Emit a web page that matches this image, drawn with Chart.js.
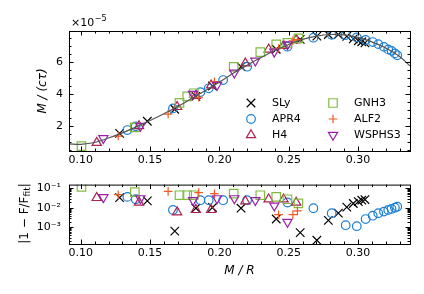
<!DOCTYPE html>
<html>
<head>
<meta charset="utf-8">
<script src="https://cdn.jsdelivr.net/npm/chart.js@4.4.0/dist/chart.umd.min.js"></script>
<style>
  html, body { margin: 0; padding: 0; background: #fff; }
  #wrap { position: relative; width: 424px; height: 294px; }
  #massChart { position: absolute; left: 0; top: 0; }
  #errChart { position: absolute; left: 0; top: 170px; }
</style>
</head>
<body>
<div id="wrap">
  <canvas id="massChart" width="424" height="170"></canvas>
  <canvas id="errChart" width="424" height="124"></canvas>
</div>
<script>
// compactness M/R, M/(c tau) in units of 1e-5, and |1 - F/Ffit| for each EOS
const slyX = [0.128, 0.148, 0.1678, 0.183, 0.195, 0.2156, 0.241, 0.2583, 0.2703, 0.2786, 0.2858, 0.2919, 0.2966, 0.3002, 0.3027, 0.305];
const slyY = [1.54, 2.3, 3.05, 3.85, 4.5, 5.71, 6.8, 7.42, 7.62, 7.72, 7.72, 7.6, 7.45, 7.33, 7.27, 7.2];
const slyErr = [0.034, 0.023, 0.00065, 0.0097, 0.0105, 0.0097, 0.0027, 0.00054, 0.00022, 0.0023, 0.0054, 0.011, 0.017, 0.021, 0.025, 0.027];

const apr4X = [0.1336, 0.1396, 0.1665, 0.1863, 0.1923, 0.2027, 0.22, 0.2491, 0.2678, 0.281, 0.2911, 0.2991, 0.3055, 0.3106, 0.3146, 0.3187, 0.3218, 0.3242, 0.3266, 0.3283];
const apr4Y = [1.75, 1.98, 3.1, 4.12, 4.36, 4.875, 5.71, 6.96, 7.52, 7.7, 7.69, 7.54, 7.38, 7.25, 7.12, 6.95, 6.79, 6.7, 6.54, 6.42];
const apr4Err = [0.037, 0.028, 0.0079, 0.025, 0.025, 0.025, 0.025, 0.019, 0.0097, 0.0054, 0.0013, 0.00116, 0.0027, 0.004, 0.0054, 0.0065, 0.0079, 0.0089, 0.0103, 0.0116];

const h4X = [0.1115, 0.142, 0.1695, 0.183, 0.194, 0.2187, 0.2355, 0.2463, 0.2554];
const h4Y = [0.96, 2.0, 3.2, 3.9, 4.55, 5.92, 6.79, 7.02, 7.38];
const h4Err = [0.033, 0.019, 0.0061, 0.008, 0.008, 0.022, 0.028, 0.028, 0.019];

const gnh3X = [0.1005, 0.139, 0.1712, 0.1768, 0.1815, 0.2103, 0.2295, 0.241, 0.2491, 0.257];
const gnh3Y = [0.75, 1.92, 3.45, 3.85, 4.05, 5.7, 6.62, 7.1, 7.2, 7.48];
const gnh3Err = [0.12, 0.065, 0.045, 0.045, 0.045, 0.054, 0.045, 0.037, 0.028, 0.017];

const alf2X = [0.127, 0.163, 0.1851, 0.1964, 0.2427, 0.253, 0.2563];
const alf2Y = [1.375, 2.75, 3.8, 4.77, 6.85, 7.33, 7.4];
const alf2Err = [0.048, 0.071, 0.061, 0.054, 0.0045, 0.0045, 0.0071];

const wsphs3X = [0.1163, 0.143, 0.181, 0.1983, 0.2108, 0.2259, 0.2396, 0.2491];
const wsphs3Y = [1.23, 2.0, 4.0, 4.56, 5.33, 6.08, 6.64, 7.1];
const wsphs3Err = [0.035, 0.031, 0.025, 0.031, 0.031, 0.025, 0.013, 0.0019];

// fitted curve
const fitX = [0.0915, 0.10, 0.11, 0.12, 0.13, 0.14, 0.15, 0.16, 0.17, 0.18, 0.19, 0.20, 0.21, 0.22, 0.23, 0.24, 0.25, 0.26, 0.27, 0.28, 0.29, 0.30, 0.31, 0.32, 0.33, 0.3375];
const fitY = [0.88, 0.86, 0.97, 1.25, 1.57, 1.95, 2.35, 2.77, 3.22, 3.72, 4.22, 4.75, 5.3, 5.8, 6.28, 6.72, 7.1, 7.42, 7.62, 7.72, 7.7, 7.54, 7.26, 6.88, 6.35, 5.75];

const xTicks = [0.10, 0.15, 0.20, 0.25, 0.30];
const xMinorTicks = [0.10, 0.11, 0.12, 0.13, 0.14, 0.15, 0.16, 0.17, 0.18, 0.19, 0.20, 0.21, 0.22, 0.23, 0.24, 0.25, 0.26, 0.27, 0.28, 0.29, 0.30, 0.31, 0.32, 0.33];
const yTicks = [2, 4, 6];
const yMinorTicks = [0.5, 1, 1.5, 2, 2.5, 3, 3.5, 4, 4.5, 5, 5.5, 6, 6.5, 7, 7.5];
const errTicks = [1e-3, 1e-2, 1e-1];
const errTickLabels = ['10\u207B\u00B3', '10\u207B\u00B2', '10\u207B\u00B9'];
const errMinorTicks = [];
[1e-4, 1e-3, 1e-2].forEach(d => { for (let k = 2; k <= 9; k++) errMinorTicks.push(k * d); });

const FONT = "'DejaVu Sans', sans-serif";

const eosList = [
    { label: 'SLy', x: slyX, y: slyY, err: slyErr, style: 'crossRot', color: '#000000', r: 6, rot: 0 },
    { label: 'APR4', x: apr4X, y: apr4Y, err: apr4Err, style: 'circle', color: '#1a7fd4', r: 4.3, rot: 0 },
    { label: 'H4', x: h4X, y: h4Y, err: h4Err, style: 'triangle', color: '#ad2150', r: 5.3, rot: 0 },
    { label: 'GNH3', x: gnh3X, y: gnh3Y, err: gnh3Err, style: 'rect', color: '#82bb43', r: 6, rot: 0 },
    { label: 'ALF2', x: alf2X, y: alf2Y, err: alf2Err, style: 'cross', color: '#ee5a24', r: 4.3, rot: 0 },
    { label: 'WSPHS3', x: wsphs3X, y: wsphs3Y, err: wsphs3Err, style: 'triangle', color: '#9b1fa8', r: 5.3, rot: 180 }
];

function markerSets(key) {
    return eosList.map((e, i) => ({
        label: e.label,
        data: e.x.map((x, j) => ({ x: x, y: e[key][j] })),
        pointStyle: e.style,
        pointRadius: e.r,
        pointRotation: e.rot,
        borderColor: e.color,
        backgroundColor: 'rgba(0,0,0,0)',
        pointBorderWidth: 1.2,
        showLine: false,
        order: eosList.length - i
    }));
}

// box round the plot and inward ticks on all four sides
const framePlugin = {
    id: 'frame',
    afterDatasetsDraw(chart, args, opts) {
        const ctx = chart.ctx;
        const a = chart.chartArea;
        const xs = chart.scales.x, ys = chart.scales.y;
        ctx.save();
        ctx.strokeStyle = '#000';
        ctx.lineWidth = 1;
        ctx.beginPath();
        const addTicks = (scale, vals, len) => {
            vals.forEach(v => {
                const p = Math.round(scale.getPixelForValue(v)) + 0.5;
                if (scale.isHorizontal()) {
                    if (p < a.left || p > a.right) return;
                    ctx.moveTo(p, a.bottom); ctx.lineTo(p, a.bottom - len);
                    ctx.moveTo(p, a.top); ctx.lineTo(p, a.top + len);
                } else {
                    if (p < a.top || p > a.bottom) return;
                    ctx.moveTo(a.left, p); ctx.lineTo(a.left + len, p);
                    ctx.moveTo(a.right, p); ctx.lineTo(a.right - len, p);
                }
            });
        };
        addTicks(xs, opts.xMinor, 2.5);
        addTicks(xs, opts.xMajor, 4.5);
        addTicks(ys, opts.yMinor, 2.5);
        addTicks(ys, opts.yMajor, 4.5);
        ctx.stroke();
        ctx.strokeRect(a.left + 0.5, a.top + 0.5, a.right - a.left, a.bottom - a.top);
        ctx.restore();
    }
};

// two column legend inside the upper panel
const eosLegendPlugin = {
    id: 'eosLegend',
    afterDraw(chart, args, opts) {
        if (!opts.show) return;
        const ctx = chart.ctx;
        ctx.save();
        ctx.font = '11px ' + FONT;
        ctx.textBaseline = 'middle';
        ctx.fillStyle = '#000';
        eosList.forEach((e, i) => {
            const col = Math.floor(i / 3), row = i % 3;
            const mx = opts.colX[col], my = opts.rowY[row];
            ctx.strokeStyle = e.color;
            ctx.lineWidth = 1.2;
            ctx.fillStyle = 'rgba(0,0,0,0)';
            Chart.helpers.drawPoint(ctx, { pointStyle: e.style, radius: e.r, rotation: e.rot, borderWidth: 1.2 }, mx, my);
            ctx.fillStyle = '#000';
            ctx.fillText(e.label, mx + 21, my + 0.5);
        });
        ctx.restore();
    }
};

// axis titles and offset text
const titlePlugin = {
    id: 'titles',
    afterDraw(chart, args, opts) {
        const ctx = chart.ctx;
        ctx.save();
        ctx.fillStyle = '#000';
        ctx.textBaseline = 'middle';
        if (opts.which === 'top') {
            ctx.font = '11px ' + FONT;
            ctx.textAlign = 'left';
            ctx.textBaseline = 'alphabetic';
            ctx.fillText('\u00D710', 71, 26);
            const w = ctx.measureText('\u00D710').width;
            ctx.font = '8px ' + FONT;
            ctx.fillText('\u22125', 71 + w + 0.5, 21);
            ctx.translate(43, 91);
            ctx.rotate(-Math.PI / 2);
            ctx.textAlign = 'center';
            ctx.textBaseline = 'middle';
            ctx.font = 'italic 12px ' + FONT;
            ctx.fillText('M / (c\u03C4)', 0, 0);
        } else {
            ctx.font = 'italic 12px ' + FONT;
            ctx.textAlign = 'center';
            ctx.fillText('M / R', 239.5, 101);
            ctx.translate(25, 43.5);
            ctx.rotate(-Math.PI / 2);
            const big = '12px ' + FONT, small = '9px ' + FONT;
            const parts = [['|1 \u2212 F/F', big, 0], ['fit', small, 3], ['|', big, 0]];
            let total = 0;
            parts.forEach(p => { ctx.font = p[1]; total += ctx.measureText(p[0]).width; });
            let cx = -total / 2;
            ctx.textAlign = 'left';
            parts.forEach(p => {
                ctx.font = p[1];
                ctx.fillText(p[0], cx, p[2]);
                cx += ctx.measureText(p[0]).width;
            });
        }
        ctx.restore();
    }
};

const tickFont = { family: FONT, size: 11 };

function xScale(height) {
    return {
        type: 'linear', min: 0.0915, max: 0.3375,
        afterBuildTicks: s => { s.ticks = xTicks.map(v => ({ value: v })); },
        afterFit: s => { s.height = height; },
        grid: { display: false, drawTicks: false },
        border: { display: false },
        ticks: { padding: 3, color: '#000', font: tickFont, autoSkip: false, maxRotation: 0, callback: v => v.toFixed(2) }
    };
}

const massChart = new Chart(document.getElementById('massChart'), {
    type: 'scatter',
    data: {
        datasets: [{
            label: 'fit',
            data: fitX.map((x, i) => ({ x: x, y: fitY[i] })),
            showLine: true,
            tension: 0.4,
            borderColor: '#555555',
            borderWidth: 1.2,
            pointRadius: 0,
            order: 0
        }].concat(markerSets('y'))
    },
    options: {
        responsive: false,
        animation: false,
        events: [],
        layout: { padding: { left: 0, right: 14, top: 31, bottom: 0 } },
        plugins: {
            legend: { display: false },
            tooltip: { enabled: false },
            frame: { xMajor: xTicks, xMinor: xMinorTicks, yMajor: yTicks, yMinor: yMinorTicks },
            eosLegend: { show: true, colX: [251, 333], rowY: [103, 119, 135] },
            titles: { which: 'top' }
        },
        scales: {
            x: xScale(19),
            y: {
                type: 'linear', min: 0.44, max: 7.94,
                afterBuildTicks: s => { s.ticks = yTicks.map(v => ({ value: v })); },
                afterFit: s => { s.width = 69; },
                grid: { display: false, drawTicks: false },
                border: { display: false },
                ticks: { padding: 6, color: '#000', font: tickFont, callback: v => String(v) }
            }
        }
    },
    plugins: [framePlugin, eosLegendPlugin, titlePlugin]
});

const errChart = new Chart(document.getElementById('errChart'), {
    type: 'scatter',
    data: { datasets: markerSets('err') },
    options: {
        responsive: false,
        animation: false,
        events: [],
        layout: { padding: { left: 0, right: 14, top: 13, bottom: 0 } },
        plugins: {
            legend: { display: false },
            tooltip: { enabled: false },
            frame: { xMajor: xTicks, xMinor: xMinorTicks, yMajor: errTicks, yMinor: errMinorTicks },
            eosLegend: { show: false },
            titles: { which: 'bottom' }
        },
        scales: {
            x: xScale(50),
            y: {
                type: 'logarithmic', min: 1.41e-4, max: 0.158,
                afterBuildTicks: s => { s.ticks = errTicks.map(v => ({ value: v })); },
                afterFit: s => { s.width = 69; },
                grid: { display: false, drawTicks: false },
                border: { display: false },
                ticks: { padding: 8, color: '#000', font: tickFont, callback: (v, i) => errTickLabels[errTicks.indexOf(v)] || errTickLabels[i] }
            }
        }
    },
    plugins: [framePlugin, eosLegendPlugin, titlePlugin]
});
</script>
</body>
</html>
